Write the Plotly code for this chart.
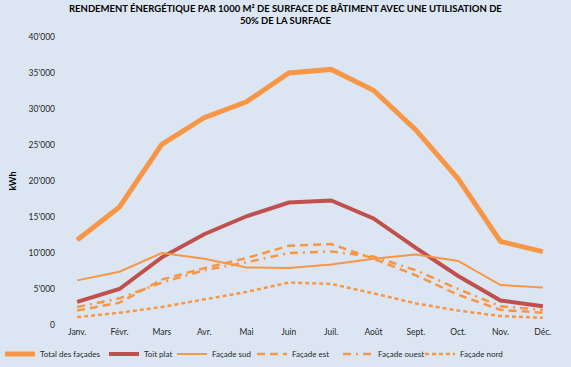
import plotly.graph_objects as go

months = ["Janv.", "Févr.", "Mars", "Avr.", "Mai", "Juin", "Juil.", "Août", "Sept.", "Oct.", "Nov.", "Déc."]
total = [11800, 16400, 25100, 28800, 31000, 35000, 35500, 32600, 27100, 20300, 11600, 10200]
toit = [3200, 5000, 9400, 12600, 15100, 17000, 17300, 14800, 10700, 6800, 3400, 2600]
sud = [6200, 7400, 10000, 9200, 8000, 7900, 8400, 9200, 9800, 8900, 5550, 5200]
est = [2000, 3100, 6300, 7900, 9300, 11000, 11250, 9200, 6900, 4200, 2100, 1700]
ouest = [2500, 3700, 5900, 7600, 8700, 10000, 10200, 9500, 7600, 5000, 2600, 2100]
nord = [1100, 1700, 2500, 3500, 4600, 5900, 5700, 4400, 3000, 2000, 1250, 1000]

ORANGE = "#F79646"
RED = "#C0504D"
BG = "#DCE6F2"

series = [
    ("Total des façades", total, ORANGE, 5, "solid"),
    ("Toit plat", toit, RED, 4, "solid"),
    ("Façade sud", sud, ORANGE, 2, "solid"),
    ("Façade est", est, ORANGE, 2.5, "8px,5px"),
    ("Façade ouest", ouest, ORANGE, 2.5, "8px,5px,2px,5px"),
    ("Façade nord", nord, ORANGE, 2.5, "4px,3px"),
]
# left edge (px) of each legend entry
legend_x = [0, 104, 172, 252, 338, 420]

font = "Lato, 'Open Sans', sans-serif"
W, H = 571, 367
ML, MR, MT, MB = 56, 7, 37, 42

fig = go.Figure()
legend_layouts = {}
for i, (name, vals, col, w, dash) in enumerate(series):
    key = "legend" if i == 0 else f"legend{i+1}"
    fig.add_trace(go.Scatter(x=months, y=vals, name=name, mode="lines",
                             line=dict(color=col, width=w, dash=dash), legend=key))
    legend_layouts[key] = dict(
        orientation="h", xref="container", yref="container",
        x=legend_x[i] / W, xanchor="left", y=1 - 354 / H, yanchor="middle",
        bgcolor="rgba(0,0,0,0)", font=dict(family=font, size=8, color="#262626"),
        itemwidth=30,
    )

fig.update_layout(
    width=W, height=H,
    paper_bgcolor=BG, plot_bgcolor=BG,
    margin=dict(l=ML, r=MR, t=MT, b=MB, autoexpand=False),
    separators=".'",
    font=dict(family=font, size=8.5, color="#262626"),
    showlegend=True,
    annotations=[dict(
        text="<b>RENDEMENT ÉNERGÉTIQUE PAR 1000 M² DE SURFACE DE BÂTIMENT AVEC UNE UTILISATION DE<br>50% DE LA SURFACE</b>",
        xref="paper", yref="paper", x=(285 - ML) / (W - ML - MR), y=1,
        xanchor="center", yanchor="bottom",
        yshift=9, showarrow=False, align="center",
        font=dict(family=font, size=9.5, color="#000000"))],
    xaxis=dict(showgrid=False, zeroline=False, showline=False, ticks="",
               range=[-0.5, 11.5], tickfont=dict(size=8.5)),
    yaxis=dict(range=[0, 40000], dtick=5000, tickformat=",d", showgrid=False,
               zeroline=False, showline=False, ticks="",
               title=dict(text="<b>kWh</b>", font=dict(size=9, color="#000000"), standoff=10),
               tickfont=dict(size=8.5)),
    **legend_layouts,
)
fig.write_html("out.html", config={"displayModeBar": False},
               post_script="document.body.style.margin='0';document.body.style.overflow='hidden';")
